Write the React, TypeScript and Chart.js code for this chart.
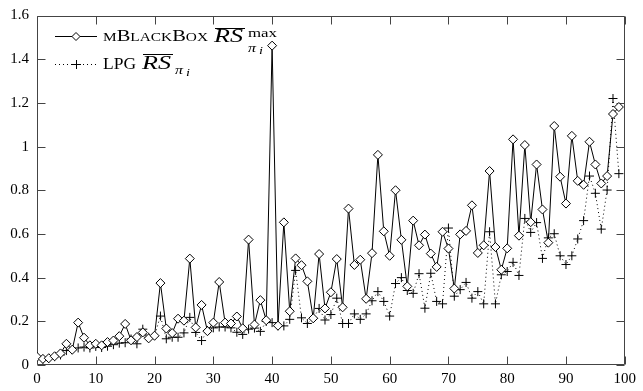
import { useEffect, useRef } from 'react';
import { Chart, registerables } from 'chart.js';

Chart.register(...registerables);

const runs = [
  0, 1, 2, 3, 4, 5, 6, 7, 8, 9, 10, 11, 12, 13, 14, 15, 16, 17, 18, 19,
  20, 21, 22, 23, 24, 25, 26, 27, 28, 29, 30, 31, 32, 33, 34, 35, 36, 37, 38, 39,
  40, 41, 42, 43, 44, 45, 46, 47, 48, 49, 50, 51, 52, 53, 54, 55, 56, 57, 58, 59,
  60, 61, 62, 63, 64, 65, 66, 67, 68, 69, 70, 71, 72, 73, 74, 75, 76, 77, 78, 79,
  80, 81, 82, 83, 84, 85, 86, 87, 88, 89, 90, 91, 92, 93, 94, 95, 96, 97, 98, 99,
];

const mBlackBox = [
  0.037, 0.028, 0.031, 0.04, 0.053, 0.097, 0.07, 0.194, 0.125, 0.09,
  0.097, 0.09, 0.105, 0.112, 0.132, 0.188, 0.113, 0.128, 0.149, 0.122,
  0.134, 0.375, 0.167, 0.146, 0.212, 0.203, 0.487, 0.172, 0.275, 0.155,
  0.194, 0.38, 0.194, 0.19, 0.222, 0.168, 0.574, 0.185, 0.297, 0.205,
  1.462, 0.18, 0.653, 0.246, 0.488, 0.457, 0.383, 0.214, 0.508, 0.259,
  0.333, 0.485, 0.264, 0.716, 0.458, 0.482, 0.303, 0.512, 0.962, 0.612,
  0.5, 0.8, 0.573, 0.36, 0.661, 0.548, 0.597, 0.51, 0.449, 0.61,
  0.533, 0.35, 0.598, 0.614, 0.731, 0.513, 0.548, 0.888, 0.54, 0.436,
  0.534, 1.033, 0.592, 1.007, 0.654, 0.918, 0.712, 0.56, 1.094, 0.862,
  0.739, 1.049, 0.843, 0.825, 1.022, 0.918, 0.831, 0.865, 1.149, 1.181,
];

const lpg = [
  0.037, 0.026, 0.03, 0.038, 0.046, 0.066, 0.07, 0.078, 0.082, 0.078,
  0.085, 0.08, 0.086, 0.093, 0.1, 0.102, 0.119, 0.097, 0.164, 0.127,
  0.134, 0.224, 0.12, 0.127, 0.127, 0.147, 0.218, 0.149, 0.112, 0.158,
  0.17, 0.174, 0.174, 0.17, 0.15, 0.14, 0.164, 0.169, 0.154, 0.199,
  0.194, 0.179, 0.179, 0.209, 0.433, 0.216, 0.19, 0.213, 0.259, 0.206,
  0.231, 0.306, 0.19, 0.19, 0.234, 0.209, 0.234, 0.294, 0.336, 0.291,
  0.224, 0.373, 0.4, 0.341, 0.328, 0.418, 0.26, 0.42, 0.291, 0.28,
  0.627, 0.315, 0.345, 0.378, 0.306, 0.336, 0.28, 0.61, 0.28, 0.413,
  0.428, 0.47, 0.41, 0.671, 0.607, 0.652, 0.488, 0.582, 0.601, 0.5,
  0.46, 0.5, 0.577, 0.661, 0.865, 0.786, 0.622, 0.801, 1.22, 0.876,
];

const xTicks = [0, 10, 20, 30, 40, 50, 60, 70, 80, 90, 100];
const yTicks = [0, 0.2, 0.4, 0.6, 0.8, 1, 1.2, 1.4, 1.6];

const FAMILY = '"Liberation Serif", "Times New Roman", serif';

function fitText(ctx: CanvasRenderingContext2D, text: string, x: number, y: number, font: string, width?: number) {
  ctx.font = font;
  const w = ctx.measureText(text).width;
  const sx = width ? width / w : 1;
  ctx.save();
  ctx.translate(x, y);
  ctx.scale(sx, 1);
  ctx.fillText(text, 0, 0);
  ctx.restore();
  return x + w * sx;
}

function smallCaps(ctx: CanvasRenderingContext2D, text: string, x: number, y: number, big: number, small: number, width: number) {
  const parts: { ch: string; font: string; w: number }[] = [];
  let total = 0;
  for (const ch of text) {
    const lower = ch !== ch.toUpperCase();
    const font = `${lower ? small : big}px ${FAMILY}`;
    ctx.font = font;
    const w = ctx.measureText(ch.toUpperCase()).width;
    parts.push({ ch: ch.toUpperCase(), font, w });
    total += w;
  }
  const sx = width / total;
  ctx.save();
  ctx.translate(x, y);
  ctx.scale(sx, 1);
  let cx = 0;
  for (const p of parts) {
    ctx.font = p.font;
    ctx.fillText(p.ch, cx, 0);
    cx += p.w;
  }
  ctx.restore();
  return x + width;
}

const framePlugin = {
  id: 'frame',
  beforeDatasetsDraw(chart: any) {
    const { ctx, chartArea: a, scales } = chart;
    const xs = scales.x;
    const ys = scales.y;
    ctx.save();
    ctx.strokeStyle = '#444';
    ctx.lineWidth = 1;
    const L = Math.round(a.left) + 0.5;
    const R = Math.round(a.right) - 0.5;
    const T = Math.round(a.top) + 0.5;
    const B = Math.round(a.bottom) - 0.5;
    ctx.beginPath();
    ctx.rect(L, T, R - L, B - T);
    ctx.stroke();
    const len = 8;
    ctx.beginPath();
    for (const v of xTicks) {
      const px = Math.round(xs.getPixelForValue(v)) + 0.5;
      ctx.moveTo(px, B);
      ctx.lineTo(px, B - len);
      ctx.moveTo(px, T);
      ctx.lineTo(px, T + len);
    }
    for (const v of yTicks) {
      const py = Math.round(ys.getPixelForValue(v)) + 0.5;
      ctx.moveTo(L, py);
      ctx.lineTo(L + len, py);
      ctx.moveTo(R, py);
      ctx.lineTo(R - len, py);
    }
    ctx.stroke();
    ctx.restore();
  },
};

const legendPlugin = {
  id: 'texLegend',
  afterDraw(chart: any) {
    const ctx: CanvasRenderingContext2D = chart.ctx;
    ctx.save();
    ctx.fillStyle = '#000';
    ctx.strokeStyle = '#000';
    ctx.textBaseline = 'alphabetic';
    ctx.textAlign = 'left';

    // row 1 sample
    const y1 = 36;
    ctx.lineWidth = 1;
    ctx.setLineDash([]);
    ctx.beginPath();
    ctx.moveTo(55, y1 + 0.5);
    ctx.lineTo(97, y1 + 0.5);
    ctx.stroke();
    ctx.beginPath();
    ctx.moveTo(76, y1 - 4 + 0.5);
    ctx.lineTo(80, y1 + 0.5);
    ctx.lineTo(76, y1 + 4 + 0.5);
    ctx.lineTo(72, y1 + 0.5);
    ctx.closePath();
    ctx.fillStyle = '#fff';
    ctx.fill();
    ctx.stroke();
    ctx.fillStyle = '#000';

    smallCaps(ctx, 'mBlackBox', 103, 41, 16, 12, 105);
    fitText(ctx, 'RS', 214, 42, `italic 18px ${FAMILY}`, 29);
    ctx.beginPath();
    ctx.moveTo(215, 28.5);
    ctx.lineTo(245, 28.5);
    ctx.stroke();
    fitText(ctx, 'max', 248, 36.5, `12px ${FAMILY}`, 29);
    fitText(ctx, 'π', 248, 52, `italic 12px ${FAMILY}`, 8);
    fitText(ctx, 'i', 259, 53.5, `italic 10px ${FAMILY}`, 4);

    // row 2 sample
    const y2 = 64;
    ctx.setLineDash([1, 3]);
    ctx.beginPath();
    ctx.moveTo(55, y2 + 0.5);
    ctx.lineTo(97, y2 + 0.5);
    ctx.stroke();
    ctx.setLineDash([]);
    ctx.beginPath();
    ctx.moveTo(72, y2 + 0.5);
    ctx.lineTo(81, y2 + 0.5);
    ctx.moveTo(76.5, y2 - 4);
    ctx.lineTo(76.5, y2 + 5);
    ctx.stroke();

    fitText(ctx, 'LPG', 103, 69, `16px ${FAMILY}`, 33);
    fitText(ctx, 'RS', 142, 69, `italic 18px ${FAMILY}`, 29);
    ctx.beginPath();
    ctx.moveTo(143, 54.5);
    ctx.lineTo(173, 54.5);
    ctx.stroke();
    fitText(ctx, 'π', 175, 74, `italic 12px ${FAMILY}`, 8);
    fitText(ctx, 'i', 186, 75.5, `italic 10px ${FAMILY}`, 4);

    ctx.restore();
  },
};

export default function App() {
  const ref = useRef<HTMLCanvasElement | null>(null);

  useEffect(() => {
    const canvas = ref.current;
    if (!canvas) return;
    const chart = new Chart(canvas, {
      type: 'line',
      data: {
        datasets: [
          {
            label: 'mBlackBox',
            data: runs.map((r, i) => ({ x: r, y: mBlackBox[i] })),
            borderColor: '#000',
            borderWidth: 1,
            pointStyle: 'rectRot',
            pointRadius: 4.5,
            pointBorderWidth: 1,
            pointBorderColor: '#000',
            pointBackgroundColor: '#fff',
            tension: 0,
            fill: false,
          },
          {
            label: 'LPG',
            data: runs.map((r, i) => ({ x: r, y: lpg[i] })),
            borderColor: '#000',
            borderWidth: 1,
            borderDash: [1, 3],
            pointStyle: 'cross',
            pointRadius: 4.5,
            pointBorderWidth: 1,
            pointBorderColor: '#000',
            tension: 0,
            fill: false,
          },
        ],
      },
      options: {
        responsive: false,
        animation: false,
        events: [],
        layout: { padding: { left: 0, right: 14, top: 0, bottom: 0 } },
        plugins: {
          legend: { display: false },
          tooltip: { enabled: false },
        },
        scales: {
          x: {
            type: 'linear',
            min: 0,
            max: 100,
            grid: { display: false, drawTicks: false },
            border: { display: false },
            afterBuildTicks: (s: any) => {
              s.ticks = xTicks.map((v) => ({ value: v }));
            },
            afterFit: (s: any) => {
              s.height = 26;
            },
            ticks: {
              color: '#000',
              padding: 7,
              maxRotation: 0,
              autoSkip: false,
              font: { family: FAMILY, size: 15, lineHeight: 1 },
              callback: (v: any) => String(v),
            },
          },
          y: {
            type: 'linear',
            min: 0,
            max: 1.6,
            grid: { display: false, drawTicks: false },
            border: { display: false },
            afterBuildTicks: (s: any) => {
              s.ticks = yTicks.map((v) => ({ value: v }));
            },
            afterFit: (s: any) => {
              s.width = 37;
            },
            ticks: {
              color: '#000',
              padding: 8,
              autoSkip: false,
              font: { family: FAMILY, size: 15, lineHeight: 1 },
              callback: (v: any) => String(v),
            },
          },
        },
      },
      plugins: [framePlugin, legendPlugin],
    });
    return () => chart.destroy();
  }, []);

  return (
    <div style={{ position: 'absolute', left: 0, top: 0, width: 643, height: 391, background: '#fff' }}>
      <canvas ref={ref} width={643} height={391} style={{ width: 643, height: 391, display: 'block' }} />
    </div>
  );
}
